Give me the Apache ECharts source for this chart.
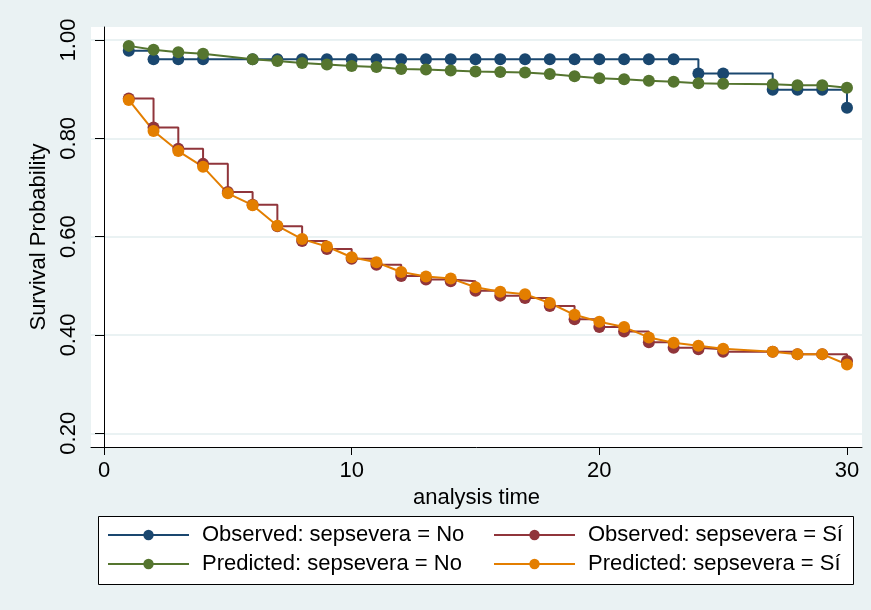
<!DOCTYPE html>
<html>
<head>
<meta charset="utf-8">
<title>Survival Probability</title>
<script src="https://cdn.jsdelivr.net/npm/echarts@6/dist/echarts.min.js"></script>
<style>
  html, body { margin: 0; padding: 0; background: #eaf2f3; }
  #chart { width: 871px; height: 610px; }
</style>
</head>
<body>
<div id="chart"></div>
<script>
// Follow-up times (days) for each group
var timesNo = [1, 2, 3, 4, 6, 7, 8, 9, 10, 11, 12, 13, 14, 15, 16, 17, 18, 19, 20, 21, 22, 23, 24, 25, 27, 28, 29, 30];
var timesSi = [1, 2, 3, 4, 5, 6, 7, 8, 9, 10, 11, 12, 13, 14, 15, 16, 17, 18, 19, 20, 21, 22, 23, 24, 25, 27, 28, 29, 30];

// Kaplan-Meier (observed) survival, sepsevera = No
var observedNo = [0.978, 0.961, 0.961, 0.961, 0.961, 0.961, 0.961, 0.961, 0.961, 0.961, 0.961, 0.961, 0.961, 0.961,
                  0.961, 0.961, 0.961, 0.961, 0.961, 0.961, 0.961, 0.961, 0.932, 0.932, 0.899, 0.899, 0.899, 0.862];
// Cox (predicted) survival, sepsevera = No
var predictedNo = [0.988, 0.980, 0.975, 0.972, 0.961, 0.957, 0.953, 0.950, 0.947, 0.945, 0.941, 0.940, 0.938, 0.936,
                   0.935, 0.934, 0.931, 0.926, 0.922, 0.920, 0.917, 0.915, 0.912, 0.911, 0.910, 0.908, 0.908, 0.903];
// Kaplan-Meier (observed) survival, sepsevera = Sí
var observedSi = [0.881, 0.822, 0.779, 0.748, 0.691, 0.665, 0.621, 0.591, 0.575, 0.555, 0.543, 0.520, 0.513, 0.509, 0.490,
                  0.480, 0.475, 0.459, 0.432, 0.416, 0.407, 0.385, 0.374, 0.371, 0.366, 0.366, 0.361, 0.361, 0.347];
// Cox (predicted) survival, sepsevera = Sí
var predictedSi = [0.878, 0.815, 0.774, 0.742, 0.688, 0.664, 0.622, 0.595, 0.580, 0.558, 0.548, 0.528, 0.519, 0.515, 0.497,
                   0.488, 0.483, 0.465, 0.441, 0.427, 0.416, 0.395, 0.384, 0.378, 0.372, 0.366, 0.361, 0.361, 0.340];

var xTicks = [0, 10, 20, 30];
var yTicks = [0.2, 0.4, 0.6, 0.8, 1.0];

var seriesNames = [
  'Observed: sepsevera = No',
  'Observed: sepsevera = Sí',
  'Predicted: sepsevera = No',
  'Predicted: sepsevera = Sí'
];

var FONT = '"Liberation Sans", Arial, Helvetica, sans-serif';

function pairs(xs, ys) {
  return xs.map(function (x, i) { return [x, ys[i]]; });
}

function lineSeries(name, data, color, step) {
  return {
    name: name,
    type: 'line',
    data: data,
    step: step ? 'end' : false,
    symbol: 'circle',
    symbolSize: 12,
    showSymbol: true,
    lineStyle: { color: color, width: 2 },
    itemStyle: { color: color },
    emphasis: { disabled: true },
    animation: false
  };
}

var chart = echarts.init(document.getElementById('chart'), null, { renderer: 'canvas' });

var legendText = { fontFamily: FONT, fontSize: 22, color: '#000', padding: [0, 0, 0, 8] };

chart.setOption({
  backgroundColor: '#eaf2f3',
  animation: false,
  textStyle: { fontFamily: FONT },
  grid: {
    left: 91, right: 9, top: 27, bottom: 163,
    show: true, backgroundColor: '#ffffff', borderWidth: 0
  },
  xAxis: {
    type: 'value',
    min: -0.525, max: 30.606,
    name: 'analysis time',
    nameLocation: 'middle',
    nameGap: 35,
    nameTextStyle: { fontFamily: FONT, fontSize: 22, color: '#000' },
    axisLine: { show: true, onZero: false, lineStyle: { color: '#000', width: 1 } },
    axisTick: { show: true, length: 8, customValues: xTicks, lineStyle: { color: '#000', width: 1 } },
    axisLabel: { customValues: xTicks, margin: 13, fontFamily: FONT, fontSize: 22, color: '#000' },
    splitLine: { show: false }
  },
  yAxis: {
    type: 'value',
    min: 0.1721, max: 1.0264,
    name: 'Survival Probability',
    nameLocation: 'middle',
    nameRotate: 90,
    nameGap: 32,
    nameTextStyle: { fontFamily: FONT, fontSize: 22, color: '#000' },
    axisLine: { show: true, lineStyle: { color: '#000', width: 1 } },
    axisTick: { show: true, length: 9, customValues: yTicks, lineStyle: { color: '#000', width: 1 } },
    axisLabel: {
      customValues: yTicks, rotate: 90, margin: 11,
      fontFamily: FONT, fontSize: 22, color: '#000',
      formatter: function (v) { return v.toFixed(2); }
    },
    splitLine: { show: true, lineStyle: { color: '#eaf2f3', width: 2 } }
  },
  graphic: [{
    type: 'rect',
    z: 1,
    shape: { x: 98.5, y: 516.5, width: 755, height: 68 },
    style: { fill: '#ffffff', stroke: '#000000', lineWidth: 1 }
  }],
  legend: [{
    data: [seriesNames[0], seriesNames[2]],
    orient: 'vertical',
    left: 107, top: 524,
    padding: 0,
    itemWidth: 81, itemHeight: 13, itemGap: 7,
    selectedMode: false,
    z: 4,
    textStyle: legendText
  }, {
    data: [seriesNames[1], seriesNames[3]],
    orient: 'vertical',
    left: 493, top: 524,
    padding: 0,
    itemWidth: 81, itemHeight: 13, itemGap: 7,
    selectedMode: false,
    z: 4,
    textStyle: legendText
  }],
  series: [
    lineSeries(seriesNames[0], pairs(timesNo, observedNo), '#1a476f', true),
    lineSeries(seriesNames[1], pairs(timesSi, observedSi), '#90353b', true),
    lineSeries(seriesNames[2], pairs(timesNo, predictedNo), '#55752f', false),
    lineSeries(seriesNames[3], pairs(timesSi, predictedSi), '#e37e00', false)
  ]
});
</script>
</body>
</html>
